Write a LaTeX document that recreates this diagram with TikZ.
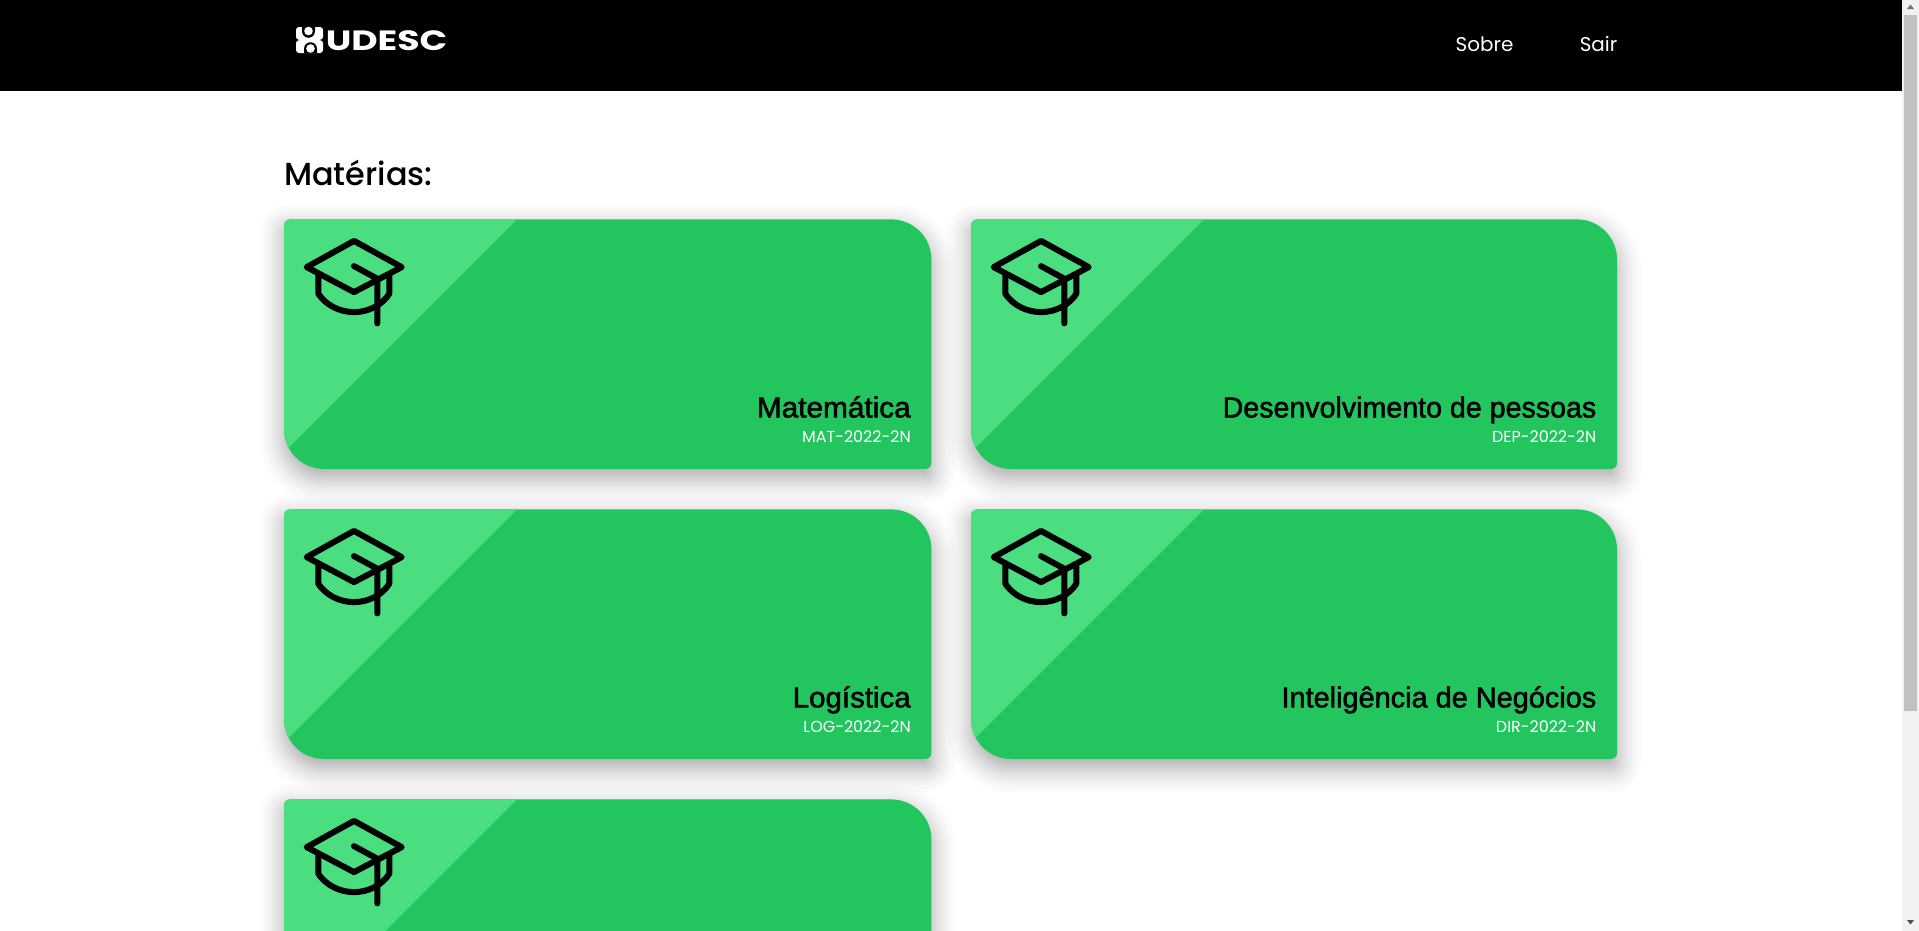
\documentclass[tikz,border=0pt]{standalone}
\usepackage{fontspec}
\setmainfont{Poppins}
\newfontfamily\mediumfont{Poppins}[UprightFont=* Medium]
\newfontfamily\titlefont{Liberation Sans}[FakeBold=1.8]
\newfontfamily\logofont{Poppins}[UprightFont=* Bold]
\definecolor{greendark}{HTML}{22C55E}
\definecolor{greenlight}{HTML}{4ADE80}
\definecolor{track}{HTML}{F1F1F1}
\definecolor{thumb}{HTML}{C1C1C1}
\definecolor{arrowgray}{HTML}{505050}
\tikzset{
  x=1bp,y=-1bp,
  capline/.style={draw=black,line width=6bp,line cap=round,line join=round},
  navtext/.style={text=white,font=\fontsize{20}{24}\selectfont,inner sep=0,anchor=base},
  cardtitle/.style={text=black,font=\titlefont\fontsize{29}{32}\selectfont,inner sep=0,anchor=base east},
  cardcode/.style={text=white,font=\fontsize{16}{18}\selectfont,inner sep=0,anchor=base east},
}
% rounded card outline: x0,y0,x1,y1,small radius,large radius
\newcommand{\cardoutline}[6]{
  (#1,#2+#5) .. controls (#1,#2+.448*#5) and (#1+.448*#5,#2) .. (#1+#5,#2)
  -- (#3-#6,#2) .. controls (#3-.448*#6,#2) and (#3,#2+.448*#6) .. (#3,#2+#6)
  -- (#3,#4-#5) .. controls (#3,#4-.448*#5) and (#3-.448*#5,#4) .. (#3-#5,#4)
  -- (#1+#6,#4) .. controls (#1+.448*#6,#4) and (#1,#4-.448*#6) .. (#1,#4-#6) -- cycle}
% card: left, top, name, title, code, title xscale, width
\newcommand{\subjectcard}[7]{
  \pgfmathsetmacro{\cardR}{#1+#7}
  \pgfmathsetmacro{\cardB}{#2+249.6}
  \foreach \dd in {-24,-20,-17,-14.5,-12,-10,-8,-6,-4.5,-3,-1.5,0,1.5,3,4.5,6,8,10,12,14.5,17,20,24}{
    \pgfmathsetmacro{\rs}{max(6+\dd,1)}
    \pgfmathsetmacro{\rl}{max(40+\dd,1)}
    \pgfmathsetmacro{\shL}{#1-\dd}
    \pgfmathsetmacro{\shT}{#2+9-\dd}
    \pgfmathsetmacro{\shR}{\cardR+\dd}
    \pgfmathsetmacro{\shB}{\cardB+9+\dd}
    \fill[black,opacity=.017] \cardoutline{\shL}{\shT}{\shR}{\shB}{\rs}{\rl};
  }
  \fill[greendark] \cardoutline{#1}{#2}{\cardR}{\cardB}{6}{40};
  \begin{scope}
    \clip \cardoutline{#1}{#2}{\cardR}{\cardB}{6}{40};
    \fill[greenlight] (#1,#2) -- (#1+233,#2) -- (#1,#2+233) -- cycle;
  \end{scope}
  \begin{scope}[shift={(#1,#2)}]
    \draw[capline] (70,21.5) -- (117.7,47.7) -- (70,72.7) -- (22.7,47.7) -- cycle;
    \draw[capline] (70,46.7) -- (93.3,59.3) -- (93.3,104);
    \draw[capline] (34.3,56) -- (34.3,74.3) .. controls (42,86) and (56,92.7) .. (70,92.7)
       .. controls (84,92.7) and (98,86) .. (105.3,74.3) -- (105.3,56);
  \end{scope}
  \node[cardtitle,xscale=#6] (#3title) at (\cardR-20.5,#2+198) {#4};
  \node[cardcode] (#3code) at (\cardR-20.5,#2+223) {#5};
}
\begin{document}
\begin{tikzpicture}
\useasboundingbox (0,0) rectangle (1919,931);
\clip (0,0) rectangle (1919,931);
\fill[white] (0,0) rectangle (1919,931);
% header
\fill[black] (0,0) rectangle (1902,91);
% logo
\fill[white,rounded corners=3bp] (296,27) rectangle (323,39.8);
\fill[white,rounded corners=3bp] (296,40.2) rectangle (323,53);
\fill[black] (302,27) -- (302,31) .. controls (302,40) and (315,40) .. (315,31) -- (315,27) -- cycle;
\fill[white] (308.5,31) circle (4.3);
\fill[black] (304,53) -- (304,49) .. controls (304,40) and (317,40) .. (317,49) -- (317,53) -- cycle;
\fill[white] (310.5,48.5) circle (4.3);
\node[text=white,font=\logofont\fontsize{28}{30}\selectfont,inner sep=0,anchor=base west,xscale=1.3] (logo) at (325.5,50) {UDESC};
\node[navtext] (sobre) at (1484.5,51) {Sobre};
\node[navtext] (sair) at (1598.5,51) {Sair};
\node[text=black,font=\mediumfont\fontsize{32}{38}\selectfont,inner sep=0,anchor=base west] (heading) at (284,185.5) {Matérias:};
\subjectcard{284}{219.4}{a}{Matemática}{MAT-2022-2N}{1.03}{647.4}
\subjectcard{971}{219.4}{b}{Desenvolvimento de pessoas}{DEP-2022-2N}{.99}{646}
\subjectcard{284}{509.4}{c}{Logística}{LOG-2022-2N}{1.02}{647.4}
\subjectcard{971}{509.4}{d}{Inteligência de Negócios}{DIR-2022-2N}{1}{646}
\subjectcard{284}{799.4}{e}{}{}{1}{647.4}
% scrollbar
\fill[track] (1902,0) rectangle (1919,931);
\fill[thumb] (1904,15) rectangle (1917,711);
\fill[arrowgray!80] (1910.5,4.5) -- (1914,9) -- (1907,9) -- cycle;
\fill[arrowgray] (1910.5,924.5) -- (1914,920) -- (1907,920) -- cycle;
\end{tikzpicture}
\end{document}
